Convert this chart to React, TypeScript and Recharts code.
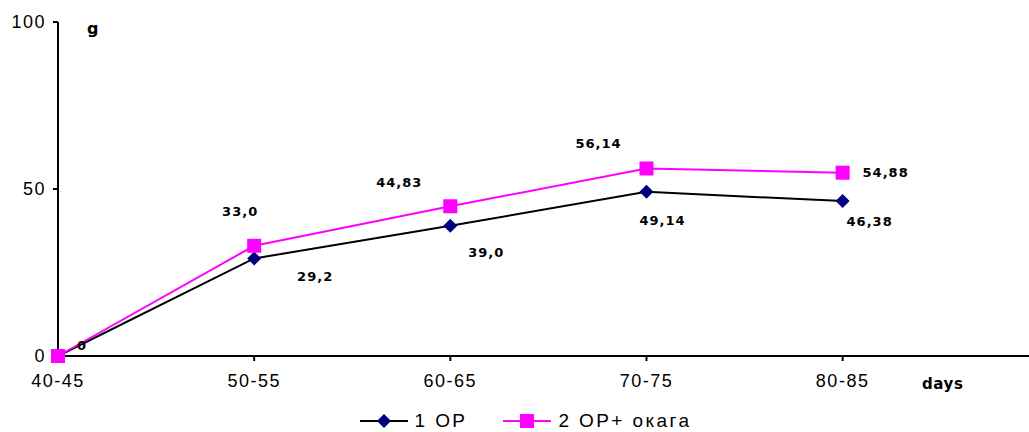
import React from "react";
import { LineChart, Line, XAxis, YAxis, LabelList, Legend } from "recharts";

const categories = ["40-45", "50-55", "60-65", "70-75", "80-85"];
const op1 = [0, 29.2, 39.0, 49.14, 46.38];
const op2 = [0, 33.0, 44.83, 56.14, 54.88];
const op1Labels = ["0", "29,2", "39,0", "49,14", "46,38"];
const op2Labels = ["", "33,0", "44,83", "56,14", "54,88"];
const yTicks = [0, 50, 100];

// label offsets (centre of text relative to the point)
const op1Offsets = [[24, -11], [61, 18], [36, 27], [16, 29], [27, 20]];
const op2Offsets = [[0, 0], [-14, -34], [-51, -24], [-48, -25], [43, 0]];

const data = categories.map((c, i) => ({
  idx: i,
  cat: c,
  op1: op1[i],
  op2: op2[i],
  op1Label: op1Labels[i],
  op2Label: op2Labels[i],
}));

const labelFont = { fontFamily: "'DejaVu Sans', Verdana, sans-serif", fontSize: 13, fontWeight: 700, letterSpacing: 1 };
const tickFont = { fontFamily: "'Liberation Sans', Arial, sans-serif", fontSize: 18, letterSpacing: 1.5, fill: "#000" };

const Diamond = ({ cx, cy }: any) => (
  <path d={`M${cx},${cy - 7}L${cx + 7},${cy}L${cx},${cy + 7}L${cx - 7},${cy}Z`} fill="#000080" />
);
const Square = ({ cx, cy }: any) => (
  <rect x={cx - 7} y={cy - 7} width={14} height={14} fill="#FF00FF" />
);

const makeLabel = (offsets: number[][]) => (props: any) => {
  const { x, y, index, value } = props;
  if (!value) return null;
  const [dx, dy] = offsets[index] || [0, 0];
  return (
    <text x={x + dx} y={y + dy} textAnchor="middle" dominantBaseline="central" fill="#000" style={labelFont}>
      {value}
    </text>
  );
};

const LegendContent = () => (
  <div style={{ height: 30, boxSizing: "border-box", paddingTop: 8, paddingLeft: 22, display: "flex", justifyContent: "center", alignItems: "center", fontFamily: "'Liberation Sans', Arial, sans-serif", fontSize: 19, letterSpacing: 2.4 }}>
    <svg width={48} height={16} style={{ marginRight: 7 }}>
      <line x1={0} y1={8} x2={48} y2={8} stroke="#000" strokeWidth={2} />
      <Diamond cx={24} cy={8} />
    </svg>
    <span style={{ marginRight: 36 }}>1 OP</span>
    <svg width={48} height={16} style={{ marginRight: 7 }}>
      <line x1={0} y1={8} x2={48} y2={8} stroke="#FF00FF" strokeWidth={2} />
      <Square cx={24} cy={8} />
    </svg>
    <span>2 OP+ окага</span>
  </div>
);

export default function App() {
  return (
    <div style={{ position: "absolute", left: 0, top: 0, width: 1029, height: 432, background: "#fff" }}>
      <LineChart width={1029} height={432} data={data} margin={{ top: 22, right: 0, bottom: 0, left: 0 }}>
        <XAxis
          dataKey="idx"
          type="number"
          domain={[0, 4.95]}
          ticks={[0, 1, 2, 3, 4]}
          tickFormatter={(v: number) => categories[v]}
          axisLine={{ stroke: "#000", strokeWidth: 2 }}
          tickLine={{ stroke: "#000", strokeWidth: 2 }}
          tickSize={5}
          tickMargin={13}
          tick={tickFont}
          height={46}
          interval={0}
        />
        <YAxis
          domain={[0, 100]}
          ticks={yTicks}
          width={58}
          axisLine={{ stroke: "#000", strokeWidth: 2 }}
          tickLine={{ stroke: "#000", strokeWidth: 2 }}
          tickSize={5}
          tickMargin={7}
          tick={tickFont}
        />
        <Legend verticalAlign="bottom" content={LegendContent} />
        <Line dataKey="op1" stroke="#000" strokeWidth={2} isAnimationActive={false} dot={(p: any) => <Diamond key={`d${p.index}`} cx={p.cx} cy={p.cy} />} activeDot={false}>
          <LabelList dataKey="op1Label" content={makeLabel(op1Offsets)} />
        </Line>
        <Line dataKey="op2" stroke="#FF00FF" strokeWidth={2} isAnimationActive={false} dot={(p: any) => <Square key={`s${p.index}`} cx={p.cx} cy={p.cy} />} activeDot={false}>
          <LabelList dataKey="op2Label" content={makeLabel(op2Offsets)} />
        </Line>
      </LineChart>
      <div style={{ position: "absolute", left: 87, top: 19, ...labelFont, fontSize: 16, letterSpacing: 0 }}>g</div>
      <div style={{ position: "absolute", left: 922, top: 375, ...labelFont, fontSize: 15, letterSpacing: 0.6 }}>days</div>
    </div>
  );
}
